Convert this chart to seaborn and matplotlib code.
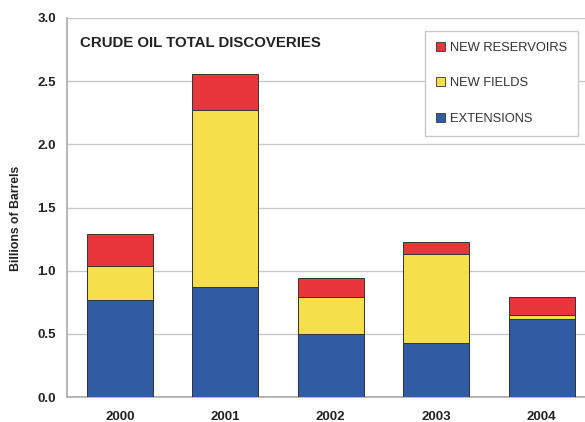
import pandas as pd
import seaborn as sns
import matplotlib.pyplot as plt
from matplotlib.patches import Patch

# crude oil discoveries, billions of barrels
years = ["2000", "2001", "2002", "2003", "2004"]
extensions = [0.77, 0.87, 0.50, 0.43, 0.62]
new_fields = [0.27, 1.40, 0.29, 0.70, 0.03]
new_reservoirs = [0.25, 0.29, 0.155, 0.10, 0.14]

col_ext = "#2F5CA3"
col_fields = "#F5E04B"
col_res = "#E8363A"

df = pd.DataFrame({"year": years, "ext": extensions,
                   "fields": new_fields, "res": new_reservoirs})
df["lvl_ext"] = df["ext"]
df["lvl_fields"] = df["lvl_ext"] + df["fields"]
df["lvl_res"] = df["lvl_fields"] + df["res"]

sns.set_style("white")
plt.rcParams["font.family"] = ["Liberation Sans", "DejaVu Sans"]

fig = plt.figure(figsize=(5.85, 4.22), dpi=100)
ax = fig.add_axes([67 / 585, 25 / 422, 527.5 / 585, 379 / 422])

# stacked look: draw the tallest level first and lay the lower ones over it
for lvl, c in [("lvl_res", col_res), ("lvl_fields", col_fields), ("lvl_ext", col_ext)]:
    sns.barplot(data=df, x="year", y=lvl, color=c, saturation=1, width=0.625,
                edgecolor="#333333", linewidth=0.7, ax=ax, zorder=3)

ax.set_xlim(-0.5, 4.5)
ax.set_ylim(0, 3.0)
ax.set_yticks([0, 0.5, 1.0, 1.5, 2.0, 2.5, 3.0])
ax.set_yticklabels(["0.0", "0.5", "1.0", "1.5", "2.0", "2.5", "3.0"])
ax.yaxis.grid(True, color="#c8c8c8", linewidth=1, zorder=0)
ax.set_axisbelow(True)

ax.set_xticks(range(5))
ax.set_xticklabels(years)
ax.set_xticks([0.5, 1.5, 2.5, 3.5], minor=True)
ax.tick_params(axis="x", which="major", length=0, pad=10, labelsize=9.5,
               labelcolor="#222222")
ax.tick_params(axis="x", which="minor", length=4, color="#aaaaaa", direction="out")
ax.tick_params(axis="y", length=4, color="#aaaaaa", labelsize=9.5,
               labelcolor="#222222", pad=4)
for lab in ax.get_xticklabels() + ax.get_yticklabels():
    lab.set_fontweight("bold")

ax.set_xlabel("")
ax.set_ylabel("Billions of Barrels", fontsize=8.8, fontweight="bold",
              color="#222222")
ax.yaxis.set_label_coords(-0.085, 0.472)

for s in ["top", "right"]:
    ax.spines[s].set_visible(False)
for s in ["left", "bottom"]:
    ax.spines[s].set_color("#aaaaaa")
    ax.spines[s].set_linewidth(1.2)

ax.text(0.025, 0.935, "CRUDE OIL TOTAL DISCOVERIES", transform=ax.transAxes,
        fontsize=10.8, fontweight="bold", color="#222222", va="center")

handles = [Patch(facecolor=col_res, edgecolor="#333333", linewidth=0.6),
           Patch(facecolor=col_fields, edgecolor="#333333", linewidth=0.6),
           Patch(facecolor=col_ext, edgecolor="#333333", linewidth=0.6)]
leg = ax.legend(handles, ["NEW RESERVOIRS", "NEW FIELDS", "EXTENSIONS"],
                loc="upper left", bbox_to_anchor=(358 / 527.5, 1 - 13 / 379),
                fontsize=9.3, frameon=True, fancybox=False, framealpha=1,
                handlelength=0.7, handleheight=0.7, handletextpad=0.35,
                labelspacing=1.8, borderpad=0.85, borderaxespad=0)
leg.get_frame().set_edgecolor("#c8c8c8")
leg.get_frame().set_linewidth(1)
for t in leg.get_texts():
    t.set_color("#333333")

fig.savefig("out.png", dpi=100)
